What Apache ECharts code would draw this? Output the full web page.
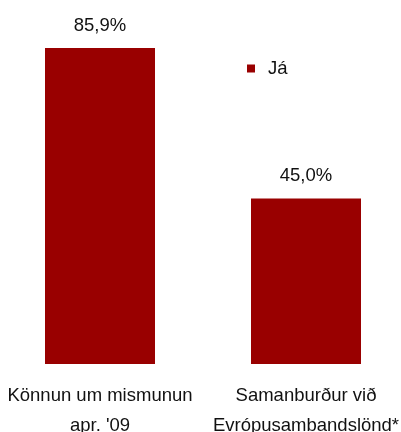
<!DOCTYPE html>
<html>
<head>
<meta charset="utf-8">
<script src="https://cdn.jsdelivr.net/npm/echarts@6/dist/echarts.min.js"></script>
<style>
  html, body { margin: 0; padding: 0; background: #ffffff; }
  #chart { width: 401px; height: 432px; }
</style>
</head>
<body>
<div id="chart"></div>
<script>
// Survey categories and the share answering "Já" (percent)
const categories = ['Könnun um mismunun\napr. \'09', 'Samanburður við\nEvrópusambandslönd*'];
const seriesName = 'Já';
const yesValues = [85.9, 45.0];

const FONT = "'Liberation Sans', Arial, sans-serif";
const BAR_COLOR = '#990000';

const chart = echarts.init(document.getElementById('chart'), null, { renderer: 'canvas' });

chart.setOption({
  animation: false,
  backgroundColor: '#ffffff',
  // category ticks sit on the grid edges, so the grid spans bar centre to bar centre
  grid: { left: 100, width: 206, top: 33, bottom: 68, containLabel: false, outerBoundsMode: 'none' },
  legend: {
    data: [seriesName],
    left: 247,
    top: 59,
    padding: 0,
    icon: 'rect',
    itemWidth: 8,
    itemHeight: 8,
    itemGap: 0,
    textStyle: { fontFamily: FONT, fontSize: 18.5, color: '#111111', padding: [0, 0, 0, 8] }
  },
  xAxis: {
    type: 'category',
    data: categories,
    boundaryGap: false,
    axisLine: { show: false },
    axisTick: { show: false },
    axisLabel: {
      margin: 17,
      interval: 0,
      fontFamily: FONT,
      fontSize: 18.5,
      lineHeight: 30,
      color: '#111111'
    }
  },
  yAxis: { type: 'value', min: 0, max: 90, show: false },
  series: [{
    name: seriesName,
    type: 'bar',
    data: yesValues,
    barWidth: 110,
    itemStyle: { color: BAR_COLOR },
    label: {
      show: true,
      position: 'top',
      distance: 13,
      fontFamily: FONT,
      fontSize: 18.5,
      color: '#111111',
      formatter: p => p.value.toFixed(1).replace('.', ',') + '%'
    }
  }]
});
</script>
</body>
</html>
